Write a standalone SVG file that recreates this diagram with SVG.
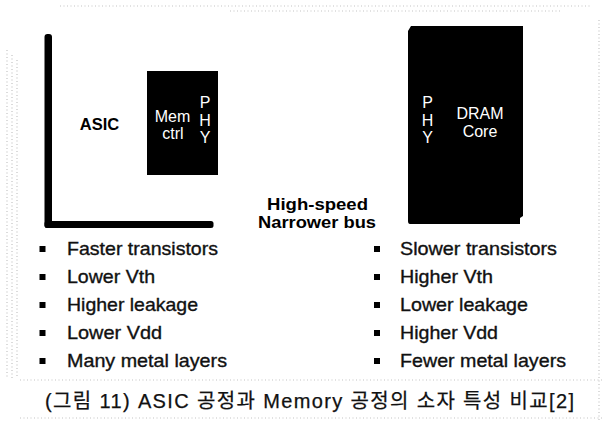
<svg xmlns="http://www.w3.org/2000/svg" width="603" height="423" viewBox="0 0 603 423">
  <defs>
    <style>
      .lbl { font-family: "Liberation Sans", Arial, Helvetica, sans-serif; }
      .w { fill: #ffffff; font-size: 16px; }
      .b { fill: #000000; font-weight: bold; }
      .item { fill: #111111; font-size: 18.5px; stroke: #111111; stroke-width: 0.35px; }
      .blk { fill: #000000; }
      .frame { stroke: #c4c4c4; stroke-width: 1.2; stroke-dasharray: 1 2.5; fill: none; }
      .cap { font-family: "Liberation Sans", "Noto Sans CJK KR", sans-serif; font-size: 20px; fill: #111111; stroke: #111111; stroke-width: 0.25px; }
    </style>
  </defs>
  <rect width="603" height="423" fill="#ffffff"/>

  <!-- scanned stipple frame -->
  <g id="frame">
    <line class="frame" x1="60" y1="6" x2="590" y2="6"/>
    <line class="frame" x1="230" y1="11" x2="560" y2="11"/>
    <line class="frame" x1="7" y1="50" x2="7" y2="378"/>
    <line class="frame" x1="12" y1="55" x2="12" y2="378"/>
    <line class="frame" x1="17" y1="60" x2="17" y2="378"/>
    <line class="frame" x1="599" y1="20" x2="599" y2="420"/>
    <line class="frame" x1="20" y1="380" x2="603" y2="380"/>
    <line class="frame" x1="20" y1="418" x2="603" y2="418"/>
  </g>

  <!-- ASIC die -->
  <g id="asic">
    <rect class="blk" x="44.5" y="34" width="7.5" height="194" rx="3"/>
    <rect class="blk" x="44.5" y="221" width="169" height="7" rx="2.5"/>
    <text class="lbl b" x="99.5" y="130" font-size="16.5" text-anchor="middle">ASIC</text>
  </g>

  <g id="memctrl">
    <rect class="blk" x="147" y="71" width="71" height="104"/>
    <text class="lbl w" x="172.5" y="122" text-anchor="middle">Mem</text>
    <text class="lbl w" x="173" y="139" text-anchor="middle">ctrl</text>
    <text class="lbl w" x="205" y="108" text-anchor="middle">P</text>
    <text class="lbl w" x="205" y="126" text-anchor="middle">H</text>
    <text class="lbl w" x="205" y="143" text-anchor="middle">Y</text>
  </g>

  <g id="dram">
    <path class="blk" d="M411,26 H523 V216 L520,218 V224 H410 Q408,224 408,221 V31 Z"/>
    <text class="lbl w" x="427.5" y="108" text-anchor="middle">P</text>
    <text class="lbl w" x="427.5" y="126" text-anchor="middle">H</text>
    <text class="lbl w" x="427.5" y="143" text-anchor="middle">Y</text>
    <text class="lbl w" x="480" y="119" text-anchor="middle">DRAM</text>
    <text class="lbl w" x="480" y="137" text-anchor="middle">Core</text>
  </g>

  <g id="bus">
    <text class="lbl b" x="267" y="210" font-size="16.5" textLength="101" lengthAdjust="spacingAndGlyphs">High-speed</text>
    <text class="lbl b" x="258" y="228" font-size="16.5" textLength="118" lengthAdjust="spacingAndGlyphs">Narrower bus</text>
  </g>

  <g id="asic-list">
    <rect class="blk" x="39.5" y="246" width="6" height="6"/>
    <rect class="blk" x="39.5" y="274" width="6" height="6"/>
    <rect class="blk" x="39.5" y="302" width="6" height="6"/>
    <rect class="blk" x="39.5" y="330" width="6" height="6"/>
    <rect class="blk" x="39.5" y="358" width="6" height="6"/>
    <text class="lbl item" x="67" y="255" textLength="151" lengthAdjust="spacingAndGlyphs">Faster transistors</text>
    <text class="lbl item" x="67" y="283" textLength="88" lengthAdjust="spacingAndGlyphs">Lower Vth</text>
    <text class="lbl item" x="67" y="311" textLength="131" lengthAdjust="spacingAndGlyphs">Higher leakage</text>
    <text class="lbl item" x="67" y="339" textLength="95" lengthAdjust="spacingAndGlyphs">Lower Vdd</text>
    <text class="lbl item" x="67" y="367" textLength="160" lengthAdjust="spacingAndGlyphs">Many metal layers</text>
  </g>

  <g id="dram-list">
    <rect class="blk" x="374" y="246" width="6" height="6"/>
    <rect class="blk" x="374" y="274" width="6" height="6"/>
    <rect class="blk" x="374" y="302" width="6" height="6"/>
    <rect class="blk" x="374" y="330" width="6" height="6"/>
    <rect class="blk" x="374" y="358" width="6" height="6"/>
    <text class="lbl item" x="400" y="255" textLength="157" lengthAdjust="spacingAndGlyphs">Slower transistors</text>
    <text class="lbl item" x="400" y="283" textLength="93" lengthAdjust="spacingAndGlyphs">Higher Vth</text>
    <text class="lbl item" x="400" y="311" textLength="128" lengthAdjust="spacingAndGlyphs">Lower leakage</text>
    <text class="lbl item" x="400" y="339" textLength="98" lengthAdjust="spacingAndGlyphs">Higher Vdd</text>
    <text class="lbl item" x="400" y="367" textLength="166" lengthAdjust="spacingAndGlyphs">Fewer metal layers</text>
  </g>

  <g id="caption">
    <text class="cap" x="45" y="408" textLength="529" lengthAdjust="spacing">(그림 11) ASIC 공정과 Memory 공정의 소자 특성 비교[2]</text>
  </g>
</svg>
